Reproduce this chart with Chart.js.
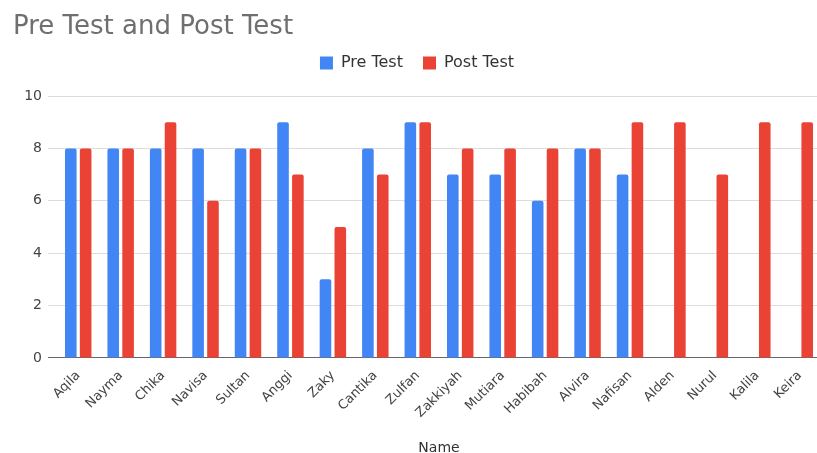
<!DOCTYPE html>
<html lang="en">
  <head>
    <meta charset="UTF-8" />
    <title>Pre Test and Post Test</title>
    <style>
      body { margin: 0; background: #fff; overflow: hidden; }
    </style>
  </head>
  <body>
    <canvas id="myChart" width="822" height="453"></canvas>

    <script src="https://cdn.jsdelivr.net/npm/chart.js@4.4.0/dist/chart.umd.min.js"></script>
    <script>
      var names = ["Aqila", "Nayma", "Chika", "Navisa", "Sultan", "Anggi", "Zaky", "Cantika", "Zulfan",
        "Zakkiyah", "Mutiara", "Habibah", "Alvira", "Nafisan", "Alden", "Nurul", "Kalila", "Keira"];
      var preTest = [8, 8, 8, 8, 8, 9, 3, 8, 9, 7, 7, 6, 8, 7, null, null, null, null];
      var postTest = [8, 8, 9, 6, 8, 7, 5, 7, 9, 8, 8, 8, 8, 9, 9, 7, 9, 9];
      var yTicks = [0, 2, 4, 6, 8, 10];

      var font = "'DejaVu Sans', sans-serif";

      // extra room between the legend and the plot
      var legendGap = {
        id: "legendGap",
        beforeInit: function (chart) {
          var fit = chart.legend.fit;
          chart.legend.fit = function () {
            fit.call(this);
            this.height += 15;
          };
        },
      };

      var ctx = document.getElementById("myChart").getContext("2d");
      var chart = new Chart(ctx, {
        type: "bar",
        data: {
          labels: names,
          datasets: [
            {
              label: "Pre Test",
              data: preTest,
              backgroundColor: "#4285f4",
              borderRadius: 2,
              borderSkipped: "bottom",
              categoryPercentage: 0.7,
              barPercentage: 0.78,
            },
            {
              label: "Post Test",
              data: postTest,
              backgroundColor: "#ea4335",
              borderRadius: 2,
              borderSkipped: "bottom",
              categoryPercentage: 0.7,
              barPercentage: 0.78,
            },
          ],
        },
        plugins: [legendGap],
        options: {
          responsive: false,
          animation: false,
          layout: { padding: { left: 13, right: 1, top: 0, bottom: 0 } },
          plugins: {
            title: {
              display: true,
              text: "Pre Test and Post Test",
              align: "start",
              color: "#6f6f6f",
              font: { family: font, size: 26, weight: "normal", lineHeight: 1 },
              padding: { top: 14, bottom: -5 },
            },
            legend: {
              labels: {
                color: "#333",
                font: { family: font, size: 16 },
                boxWidth: 13,
                boxHeight: 13,
                padding: 20,
              },
            },
            tooltip: { enabled: false },
          },
          scales: {
            x: {
              grid: { display: false },
              border: { color: "#666" },
              ticks: {
                color: "#444",
                font: { family: font, size: 13 },
                maxRotation: 45,
                minRotation: 45,
                padding: 2,
              },
              title: {
                display: true,
                text: "Name",
                color: "#333",
                font: { family: font, size: 14, lineHeight: 1 },
                padding: { top: 18, bottom: -2 },
              },
            },
            y: {
              min: 0,
              max: 10,
              afterBuildTicks: function (axis) {
                axis.ticks = yTicks.map(function (v) { return { value: v }; });
              },
              afterFit: function (axis) {
                axis.width = 44;
              },
              grid: {
                color: function (c) {
                  return c.tick && c.tick.value === 0 ? "#666" : "#dcdcdc";
                },
                tickLength: 9,
              },
              border: { display: false },
              ticks: {
                color: "#444",
                font: { family: font, size: 14 },
                padding: 6,
              },
            },
          },
        },
      });
    </script>
  </body>
</html>
